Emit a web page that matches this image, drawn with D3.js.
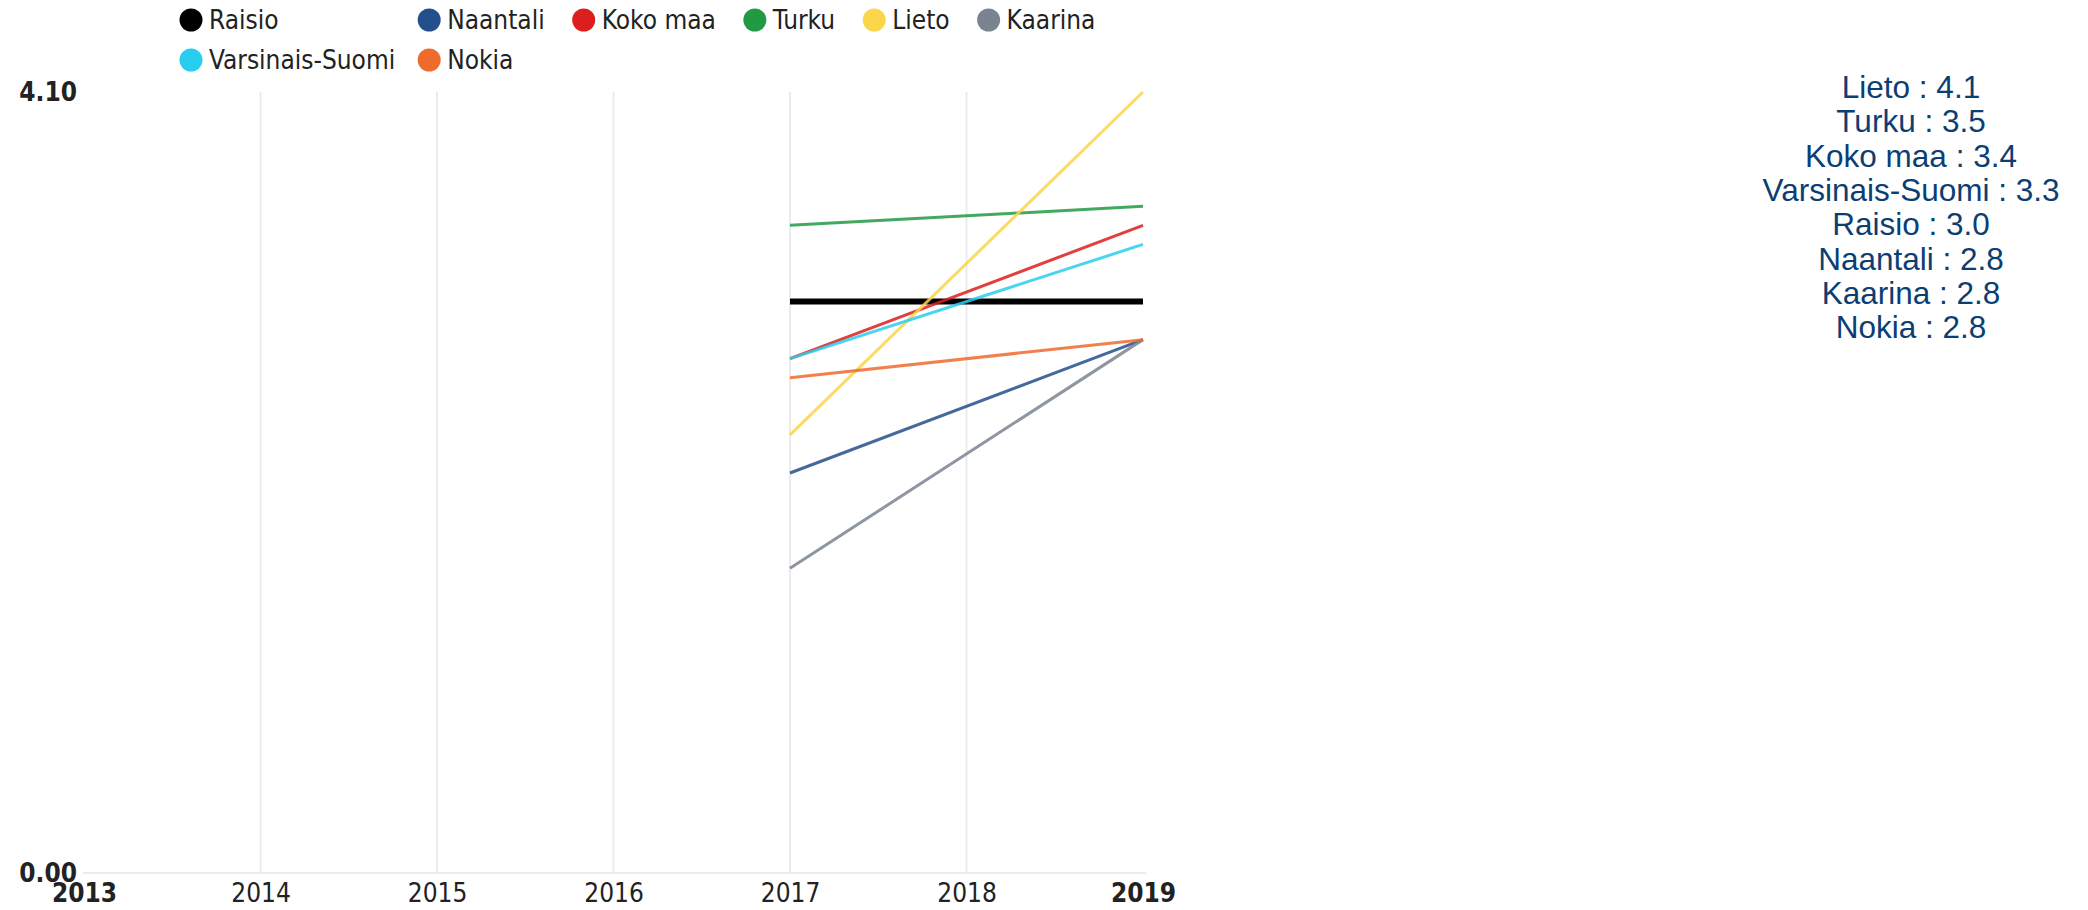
<!DOCTYPE html>
<html>
<head>
    <meta charset="utf-8">
    <script type="text/javascript" src="https://d3js.org/d3.v7.min.js"></script>
    <style>
        body { margin: 0; background: #fff; }
        svg { display: block; }
    </style>
</head>
<body>
    <div id="chart"></div>
    <script type="text/javascript">
        // data
        const years = [2013, 2014, 2015, 2016, 2017, 2018, 2019];
        const seriesNames = ["Raisio", "Naantali", "Koko maa", "Turku", "Lieto", "Kaarina", "Varsinais-Suomi", "Nokia"];
        const seriesColors = ["#000000", "#234f8c", "#dc1e1e", "#229a44", "#fbd54a", "#7a8491", "#29cdf0", "#ef6a2d"];
        const raisio = [null, null, null, null, 3.0, null, 3.0];
        const naantali = [null, null, null, null, 2.1, null, 2.8];
        const kokoMaa = [null, null, null, null, 2.7, null, 3.4];
        const turku = [null, null, null, null, 3.4, null, 3.5];
        const lieto = [null, null, null, null, 2.3, null, 4.1];
        const kaarina = [null, null, null, null, 1.6, null, 2.8];
        const varsinaisSuomi = [null, null, null, null, 2.7, null, 3.3];
        const nokia = [null, null, null, null, 2.6, null, 2.8];
        const yTicks = [0, 4.1];

        const seriesValues = [raisio, naantali, kokoMaa, turku, lieto, kaarina, varsinaisSuomi, nokia];

        // layout
        const width = 2088, height = 910;
        const plotLeft = 84, plotRight = 1143, plotTop = 92, plotBottom = 873;
        const axisFont = "'DejaVu Sans Condensed', 'DejaVu Sans', sans-serif";

        const svg = d3.select("#chart")
            .append("svg")
            .attr("width", width)
            .attr("height", height);

        const x = d3.scaleLinear().domain([years[0], years[years.length - 1]]).range([plotLeft, plotRight]);
        const y = d3.scaleLinear().domain([0, 4.1]).range([plotBottom, plotTop]);

        // vertical gridlines
        svg.append("g")
            .selectAll("line")
            .data(years.slice(1, -1))
            .enter()
            .append("line")
            .attr("x1", d => x(d)).attr("x2", d => x(d))
            .attr("y1", y(4.1)).attr("y2", y(0))
            .style("stroke", "#ebebeb")
            .style("stroke-width", 2);

        // baseline
        svg.append("line")
            .attr("x1", x(years[0]) - 1).attr("x2", x(years[years.length - 1]) + 3)
            .attr("y1", y(0)).attr("y2", y(0))
            .style("stroke", "#ebebeb")
            .style("stroke-width", 2);

        // x axis
        const xAxis = svg.append("g")
            .attr("transform", `translate(0,${plotBottom + 11})`)
            .call(d3.axisBottom(x).tickValues(years).tickFormat(d3.format("d")).tickSize(0).tickPadding(0));
        xAxis.select(".domain").remove();
        xAxis.selectAll("text")
            .attr("dy", "0.71em")
            .style("font-family", axisFont)
            .style("font-size", "26px")
            .style("fill", "#222")
            .style("font-weight", (d, i) => (i === 0 || i === years.length - 1) ? "bold" : "normal");

        // y axis, only min and max
        const yAxis = svg.append("g")
            .attr("transform", `translate(77,0)`)
            .call(d3.axisLeft(y).tickValues(yTicks).tickFormat(d3.format(".2f")).tickSize(0).tickPadding(0));
        yAxis.select(".domain").remove();
        yAxis.selectAll("text")
            .style("font-family", axisFont)
            .style("font-size", "26px")
            .style("font-weight", "bold")
            .style("fill", "#222");

        // lines, skipping empty years so 2017 joins 2019 directly
        const line = d3.line()
            .x(d => x(d[0]))
            .y(d => y(d[1]));

        for (let i = 0; i < seriesNames.length; i++) {
            let pts = years.map((yr, j) => [yr, seriesValues[i][j]]).filter(p => p[1] !== null);
            svg.append("path")
                .datum(pts)
                .attr("d", line)
                .style("fill", "none")
                .style("stroke", seriesColors[i])
                .style("stroke-width", i === 0 ? 6 : 3)
                .style("opacity", i === 0 ? 1 : 0.85);
        }

        // legend
        const legend = svg.append("g").attr("class", "legend");
        const legendRows = [[0, 1, 2, 3, 4, 5], [6, 7]];
        const rowY = [20, 60];
        const legendX0 = 191;
        // first column as wide as its widest entry
        const tmp = legend.append("text")
            .style("font-family", axisFont).style("font-size", "26px");
        const measure = s => { tmp.text(s); return tmp.node().getComputedTextLength(); };
        const col1W = Math.max(...legendRows.map(r => measure(seriesNames[r[0]])));
        tmp.remove();

        legendRows.forEach((row, ri) => {
            let cx = legendX0;
            row.forEach((si, k) => {
                legend.append("circle")
                    .attr("cx", cx).attr("cy", rowY[ri]).attr("r", 11.5)
                    .style("fill", seriesColors[si]);
                let t = legend.append("text")
                    .attr("x", cx + 18).attr("y", rowY[ri])
                    .attr("dy", "0.36em")
                    .style("font-family", axisFont)
                    .style("font-size", "26px")
                    .style("fill", "#222")
                    .text(seriesNames[si]);
                let w = k === 0 ? col1W : t.node().getComputedTextLength();
                cx += k === 0 ? 18 + w + 34 : 18 + w + 39;
            });
        });

        // latest values list on the right
        const latest = seriesNames.map((n, i) => ({ name: n, v: seriesValues[i][years.length - 1] }));
        latest.sort((a, b) => b.v - a.v);
        svg.append("g")
            .selectAll("text")
            .data(latest)
            .enter()
            .append("text")
            .attr("x", 1911)
            .attr("y", (d, i) => 98 + i * 34.3)
            .attr("text-anchor", "middle")
            .style("font-family", "'Liberation Sans', Arial, sans-serif")
            .style("font-size", "31.5px")
            .style("fill", "#0b3e73")
            .text(d => `${d.name} : ${d.v.toFixed(1)}`);
    </script>
</body>
</html>
